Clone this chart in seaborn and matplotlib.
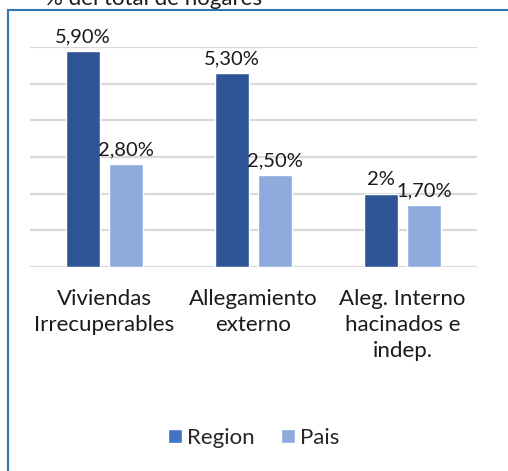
import pandas as pd
import seaborn as sns
import matplotlib.pyplot as plt
from matplotlib.patches import Patch, Rectangle

categories = ['Viviendas\nIrrecuperables', 'Allegamiento\nexterno', 'Aleg. Interno\nhacinados e\nindep.']
series = ['Region', 'Pais']
region_vals = [5.9, 5.3, 2.0]
pais_vals = [2.8, 2.5, 1.7]
region_labels = ['5,90%', '5,30%', '2%']
pais_labels = ['2,80%', '2,50%', '1,70%']
colors = ['#2F5597', '#8FAADC']
legend_colors = ['#4472C4', '#8FAADC']

df = pd.DataFrame({
    'cat': categories * 2,
    'serie': [series[0]] * 3 + [series[1]] * 3,
    'val': region_vals + pais_vals,
})

sns.set_style('white')
plt.rcParams['font.family'] = ['Lato', 'DejaVu Sans']

fig = plt.figure(figsize=(5.08, 4.71), dpi=100)
ax = fig.add_axes([30 / 508, 1 - 267 / 471, 447 / 508, 220 / 471])

sns.barplot(data=df, x='cat', y='val', hue='serie', palette=colors,
            width=0.577, gap=0.21, ax=ax, legend=False, saturation=1)

ax.set_ylim(0, 6)
ax.set_yticks([0, 1, 2, 3, 4, 5, 6])
ax.yaxis.grid(True, color='#D9D9D9', linewidth=1.6)
ax.set_axisbelow(True)
ax.set_yticklabels([])
ax.tick_params(axis='both', length=0)
for s in ax.spines.values():
    s.set_visible(False)
ax.set_xlabel('')
ax.set_ylabel('')
ax.tick_params(axis='x', pad=16, labelsize=16, colors='#1a1a1a')
for lbl in ax.get_xticklabels():
    lbl.set_linespacing(1.38)

for cont, labs in zip(ax.containers, [region_labels, pais_labels]):
    ax.bar_label(cont, labels=labs, padding=4, fontsize=14.5, color='#1a1a1a')

handles = [Patch(facecolor=c, label=n) for c, n in zip(legend_colors, series)]
fig.legend(handles=handles, loc='center', bbox_to_anchor=(0.5, 1 - 438 / 471),
           ncol=2, frameon=False, fontsize=16, handlelength=0.6, handleheight=0.6,
           handletextpad=0.25, columnspacing=1.2)

fig.text(45 / 508, 1 - 5 / 471, '% del total de hogares', fontsize=16,
         va='baseline', ha='left', color='#1a1a1a')

fig.patches.append(Rectangle((8 / 508, -0.05), 1.0, 1 - 10 / 471 + 0.05,
                             transform=fig.transFigure, fill=False,
                             edgecolor='#2E75B6', linewidth=1.5))

fig.savefig('out.png', dpi=100)
